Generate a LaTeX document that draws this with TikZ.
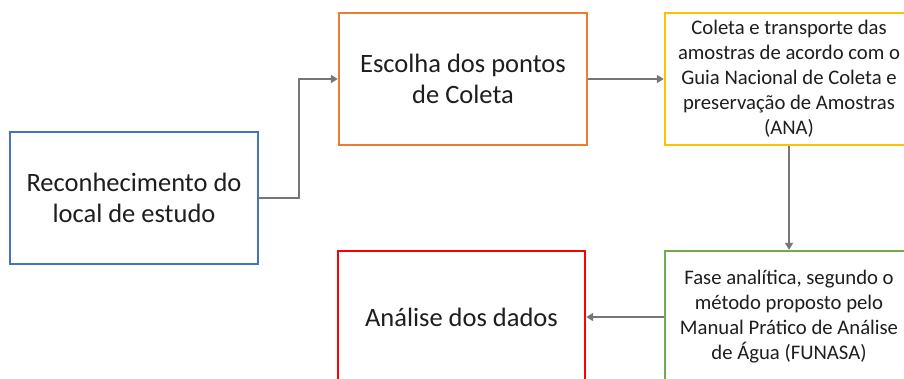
\documentclass[tikz,border=0pt]{standalone}
\usepackage{fontspec}
\setmainfont{Carlito}
\usetikzlibrary{arrows.meta}
\definecolor{cblue}{HTML}{4472C4}
\definecolor{corange}{HTML}{ED7D31}
\definecolor{cyellow}{HTML}{FFC000}
\definecolor{cred}{HTML}{FF0000}
\definecolor{cgreen}{HTML}{70AD47}
\definecolor{carrow}{HTML}{767676}
\definecolor{ctext}{HTML}{1E1E1E}
\begin{document}
\begin{tikzpicture}[x=1pt,y=-1pt,
  box/.style={draw, line width=2.4pt, minimum width=248pt, minimum height=132pt, align=center, inner sep=0pt, text=ctext},
  big/.style={font=\fontsize{26.5}{31}\selectfont},
  small/.style={font=\fontsize{20.7}{25}\selectfont},
  arr/.style={draw=carrow, line width=2.5pt, -{Triangle[length=7pt,width=8pt]}}]
\clip (0,0) rectangle (904,378);
\fill[white] (0,0) rectangle (904,378);
\node[box, big, draw=cblue] (b1) at (134,198) {Reconhecimento do\\local de estudo};
\node[box, big, draw=corange] (b2) at (463,79) {Escolha dos pontos\\de Coleta};
\node[box, small, draw=cyellow] (b3) at (789,79) {Coleta e transporte das\\amostras de acordo com o\\Guia Nacional de Coleta e\\preservação de Amostras\\(ANA)};
\node[box, big, draw=cred, minimum width=247pt] (b4) at (461.5,317) {Análise dos dados};
\node[box, small, draw=cgreen] (b5) at (789,317) {Fase analítica, segundo o\\método proposto pelo\\Manual Prático de Análise\\de Água (FUNASA)};
\draw[arr] (b1.east) -- ++(40,0) |- (b2.west);
\draw[arr] (b2.east) -- (b3.west);
\draw[arr] (b3.south) -- (b5.north);
\draw[arr] (b5.west) -- (b4.east);
\end{tikzpicture}
\end{document}
